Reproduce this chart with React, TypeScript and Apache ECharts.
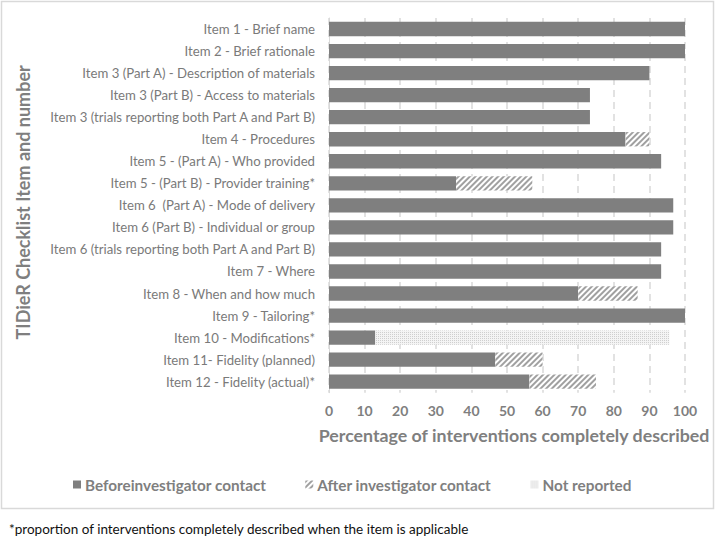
import React, { useEffect, useRef } from "react";
import * as echarts from "echarts";

const categories = [
  "Item 1 - Brief name",
  "Item 2 - Brief rationale",
  "Item 3 (Part A) - Description of materials",
  "Item 3 (Part B) - Access to materials",
  "Item 3 (trials reporting both Part A and Part B)",
  "Item 4 - Procedures",
  "Item 5 - (Part A) - Who provided",
  "Item 5 - (Part B) - Provider training*",
  "Item 6  (Part A) - Mode of delivery",
  "Item 6 (Part B) - Individual or group",
  "Item 6 (trials reporting both Part A and Part B)",
  "Item 7 - Where",
  "Item 8 - When and how much",
  "Item 9 - Tailoring*",
  "Item 10 - Modifications*",
  "Item 11- Fidelity (planned)",
  "Item 12 - Fidelity (actual)*",
];

const beforeContact = [100, 100, 90, 73.3, 73.3, 83.3, 93.3, 35.7, 96.7, 96.7, 93.3, 93.3, 70, 100, 13, 46.7, 56.3];
const afterContact = [0, 0, 0, 0, 0, 6.7, 0, 21.4, 0, 0, 0, 0, 16.7, 0, 0, 13.3, 18.7];
const notReported = [0, 0, 0, 0, 0, 0, 0, 0, 0, 0, 0, 0, 0, 0, 82.6, 0, 0];

const xTicks = { min: 0, max: 100, interval: 10 };

const seriesNames = ["Beforeinvestigator contact", "After investigator contact", "Not reported"];

const FONT = "Lato, 'Open Sans', sans-serif";
const GREY = "#7f7f7f";

export default function App() {
  const ref = useRef<HTMLDivElement>(null);
  useEffect(() => {
    document.body.style.margin = "0";
    const chart = echarts.init(ref.current!, undefined, { renderer: "svg" });
    chart.setOption({
      animation: false,
      textStyle: { fontFamily: FONT },
      grid: { left: 329, right: 30, top: 18, bottom: 154.3, containLabel: false },
      xAxis: {
        type: "value",
        min: xTicks.min,
        max: xTicks.max,
        interval: xTicks.interval,
        axisLine: { show: false },
        axisTick: { show: false },
        splitLine: { show: true, lineStyle: { color: "#d9d9d9", type: [7, 5], width: 1.5 } },
        axisLabel: { margin: 11, fontSize: 14, fontWeight: "bold", color: GREY, fontFamily: FONT },
        name: "Percentage of interventions completely described",
        nameLocation: "middle",
        nameGap: 33,
        nameTextStyle: { fontSize: 17.8, fontWeight: "bold", color: GREY, fontFamily: FONT, padding: [0, 0, 0, 14] },
      },
      yAxis: {
        type: "category",
        data: categories,
        inverse: true,
        axisLine: { show: true, lineStyle: { color: "#d9d9d9", width: 1 } },
        axisTick: { show: false },
        axisLabel: { margin: 14, fontSize: 13.2, color: "#7a7a7a", fontFamily: FONT },
        name: "TIDieR Checklist Item and number",
        nameLocation: "middle",
        nameGap: 297,
        nameRotate: 90,
        nameTextStyle: { fontSize: 18, fontWeight: "bold", color: GREY, fontFamily: FONT, padding: [0, 0, 0, 6] },
      },
      legend: {
        left: 73,
        top: 477,
        padding: 0,
        itemWidth: 8,
        itemHeight: 8,
        itemGap: 39,
        icon: "rect",
        textStyle: { fontSize: 15.3, fontWeight: "bold", color: GREY, fontFamily: FONT, padding: [0, 0, 0, -1] },
        data: seriesNames,
      },
      series: [
        {
          name: seriesNames[0],
          type: "bar",
          stack: "total",
          barWidth: "65%",
          itemStyle: { color: "#7f7f7f" },
          data: beforeContact,
        },
        {
          name: seriesNames[1],
          type: "bar",
          stack: "total",
          barWidth: "65%",
          itemStyle: {
            color: "#ffffff",
            decal: {
              symbol: "rect",
              symbolSize: 1,
              color: "#a0a0a0",
              dashArrayX: [1, 0],
              dashArrayY: [1.5, 2],
              rotation: -Math.PI / 4,
            },
          },
          data: afterContact,
        },
        {
          name: seriesNames[2],
          type: "bar",
          stack: "total",
          barWidth: "65%",
          itemStyle: {
            color: "#f4f4f4",
            decal: {
              symbol: "rect",
              symbolSize: 1,
              color: "#cfcfcf",
              dashArrayX: [1, 1],
              dashArrayY: [1, 1],
              rotation: 0,
            },
          },
          data: notReported,
        },
      ],
      graphic: [
        {
          type: "rect",
          shape: { x: 1.5, y: 1.5, width: 712, height: 507 },
          style: { fill: "none", stroke: "#d9d9d9", lineWidth: 1.5 },
          silent: true,
        },
        {
          type: "text",
          left: 9,
          top: 522,
          style: {
            text: "*proportion of interventions completely described when the item is applicable",
            fontSize: 13.5,
            fill: "#111111",
            fontFamily: FONT,
          },
        },
      ],
    });
    return () => chart.dispose();
  }, []);
  return <div ref={ref} style={{ width: 715, height: 547 }} />;
}
